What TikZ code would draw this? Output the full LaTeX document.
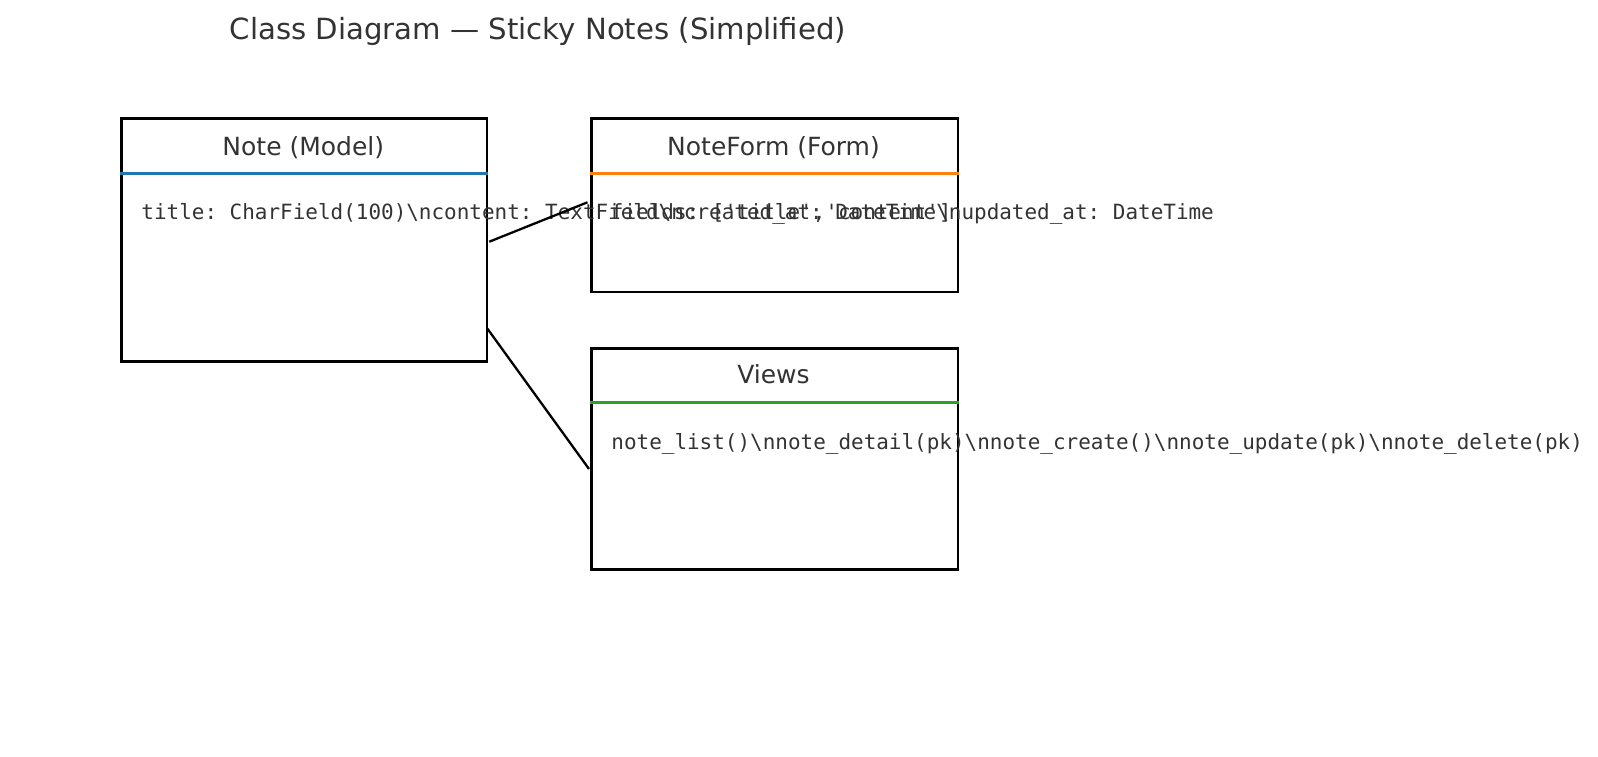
\documentclass[tikz,border=0pt]{standalone}
\usepackage{fontspec}
\setmainfont{DejaVu Sans}
\setmonofont{DejaVu Sans Mono}
\definecolor{txt}{HTML}{333333}
\definecolor{tabblue}{HTML}{1F77B4}
\definecolor{taborange}{HTML}{FF7F0E}
\definecolor{tabgreen}{HTML}{2CA02C}
\begin{document}
\begin{tikzpicture}[x=0.48pt,y=-0.48pt,
  classbox/.style={draw=black, line width=1.2pt, rectangle, inner sep=0pt, anchor=north west},
  headline/.style={line width=1.5pt},
  heading/.style={font=\fontsize{12}{14}\selectfont, text=txt, anchor=base, inner sep=0pt},
  body/.style={font=\ttfamily\fontsize{10.06}{12}\selectfont, text=txt, anchor=base west, inner sep=0pt},
  link/.style={draw=black, line width=1.1pt},
  titletext/.style={font=\fontsize{14}{17}\selectfont, text=txt, anchor=base, inner sep=0pt}]
\useasboundingbox (0,0) rectangle (1598,757);
\node[titletext] (title) at (538,39.5) {Class Diagram — Sticky Notes (Simplified)};
% boxes
\node[classbox, minimum width=175.5pt, minimum height=116.6pt] (note) at (120,117.2) {};
\node[classbox, minimum width=176pt, minimum height=83.3pt] (form) at (590,117.2) {};
\node[classbox, minimum width=176pt, minimum height=106.2pt] (views) at (590,347) {};
% header separators
\draw[headline, tabblue] ([yshift=-27.2pt]note.north west) -- ([yshift=-27.2pt]note.north east);
\draw[headline, taborange] ([yshift=-27.2pt]form.north west) -- ([yshift=-27.2pt]form.north east);
\draw[headline, tabgreen] ([yshift=-26.6pt]views.north west) -- ([yshift=-26.6pt]views.north east);
% headings
\node[heading] (noteh) at (303.3,155) {Note (Model)};
\node[heading] (formh) at (773.5,155) {NoteForm (Form)};
\node[heading] (viewsh) at (773.5,383.2) {Views};
% bodies
\node[body] (noteb) at (141,219.8) {title: CharField(100)\textbackslash ncontent: TextField\textbackslash ncreated\_at: DateTime\textbackslash nupdated\_at: DateTime};
\node[body] (formb) at (610.5,219.8) {fields: ['title','content']};
\node[body] (viewsb) at (611,449) {note\_list()\textbackslash nnote\_detail(pk)\textbackslash nnote\_create()\textbackslash nnote\_update(pk)\textbackslash nnote\_delete(pk)};
% connectors
\coordinate (l1a) at (489.3,241.7);
\coordinate (l1b) at (587.5,202.3);
\coordinate (l2a) at (487.3,328.5);
\coordinate (l2b) at (589,469);
\draw[link] (l1a) -- (l1b);
\draw[link] (l2a) -- (l2b);
\end{tikzpicture}
\end{document}
